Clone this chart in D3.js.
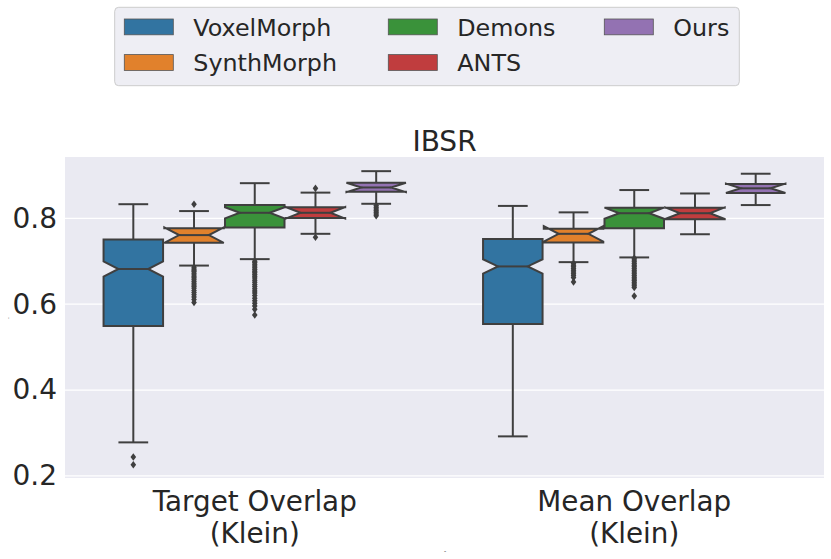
<!DOCTYPE html>
<html>
<head>
<meta charset="utf-8">
<script src="https://cdn.jsdelivr.net/npm/d3@7"></script>
<style>
    body { margin: 0; background: #ffffff; }
    text { font-family: "DejaVu Sans", sans-serif; fill: #262626; }
</style>
</head>
<body>
<div id="chart"></div>
<script>
// categories (x axis) and hue groups
var categories = ["Target Overlap\n(Klein)", "Mean Overlap\n(Klein)"];
var methods = ["VoxelMorph", "SynthMorph", "Demons", "ANTS", "Ours"];
var methodColors = ["#3274a1", "#e1812c", "#3a923a", "#c03d3e", "#9372b2"];
var yTicks = [0.2, 0.4, 0.6, 0.8];

// box statistics, one row per method, [Target, Mean]
var whiskerLow = [[0.278, 0.292], [0.690, 0.698], [0.705, 0.709], [0.764, 0.763], [0.834, 0.831]];
var q1 = [[0.549, 0.554], [0.743, 0.744], [0.779, 0.777], [0.801, 0.798], [0.862, 0.859]];
var median = [[0.682, 0.688], [0.761, 0.764], [0.813, 0.812], [0.813, 0.812], [0.872, 0.870]];
var q3 = [[0.751, 0.752], [0.777, 0.776], [0.831, 0.825], [0.826, 0.825], [0.883, 0.880]];
var whiskerHigh = [[0.833, 0.829], [0.817, 0.814], [0.882, 0.866], [0.860, 0.858], [0.910, 0.904]];
var notchHalf = [[0.0175, 0.0167], [0.018, 0.018], [0.013, 0.013], [0.0135, 0.0135], [0.011, 0.011]];

// outliers
var outVoxelMorph = [[0.244, 0.226], []];
var outSynthMorph = [
    [0.833, 0.686, 0.682, 0.679, 0.676, 0.672, 0.668, 0.664, 0.661, 0.657, 0.653, 0.649,
        0.645, 0.641, 0.637, 0.632, 0.627, 0.622, 0.617, 0.611, 0.604],
    [0.695, 0.691, 0.687, 0.683, 0.679, 0.675, 0.671, 0.667, 0.662, 0.652]
];
var outDemons = [
    [0.700, 0.697, 0.693, 0.689, 0.685, 0.681, 0.677, 0.673, 0.669, 0.665, 0.661, 0.656,
        0.651, 0.646, 0.641, 0.636, 0.631, 0.626, 0.620, 0.614, 0.608, 0.602, 0.596, 0.588, 0.575],
    [0.707, 0.703, 0.699, 0.695, 0.691, 0.687, 0.683, 0.679, 0.675, 0.671, 0.667, 0.663,
        0.659, 0.655, 0.651, 0.647, 0.643, 0.639, 0.619]
];
var outANTS = [[0.870, 0.756], []];
var outOurs = [[0.830, 0.826, 0.822, 0.818, 0.814, 0.810, 0.806], []];
var outliers = [outVoxelMorph, outSynthMorph, outDemons, outANTS, outOurs];

function drawChart() {
    var W = 831, H = 559;
    var plot = { left: 65, right: 824, top: 157, bottom: 478 };
    var lineColor = "#3f3f3f";

    var svg = d3.select("#chart")
        .append("svg")
        .attr("width", W)
        .attr("height", H);

    // background of axes
    svg.append("rect")
        .attr("x", plot.left)
        .attr("y", plot.top)
        .attr("width", plot.right - plot.left)
        .attr("height", plot.bottom - plot.top)
        .attr("fill", "#eaeaf2");

    var y = d3.scaleLinear()
        .domain([0.195, 0.943])
        .range([plot.bottom, plot.top]);

    var x = d3.scaleBand()
        .domain(categories)
        .range([plot.left, plot.right]);

    var bw = x.bandwidth();
    var hue = d3.scaleBand()
        .domain(methods)
        .range([0.1 * bw, 0.9 * bw]);

    // grid lines
    svg.selectAll("gridY")
        .data(yTicks)
        .enter()
        .append("line")
        .attr("x1", plot.left)
        .attr("x2", plot.right)
        .attr("y1", function (d) { return y(d); })
        .attr("y2", function (d) { return y(d); })
        .attr("stroke", "#ffffff")
        .attr("stroke-width", 1.3);

    // y axis
    var yAxis = svg.append("g")
        .attr("transform", "translate(" + plot.left + ",0)")
        .call(d3.axisLeft(y).tickValues(yTicks).tickSize(0).tickPadding(8).tickFormat(d3.format(".1f")));
    yAxis.select(".domain").remove();
    yAxis.selectAll("text")
        .style("font-size", "28px")
        .style("font-family", "DejaVu Sans")
        .attr("fill", "#262626");

    // x tick labels (two lines)
    var xl = svg.selectAll("xlab")
        .data(categories)
        .enter()
        .append("text")
        .attr("text-anchor", "middle")
        .style("font-size", "27.8px");
    xl.selectAll("tspan")
        .data(function (d) {
            return d.split("\n").map(function (s, i) { return { s: s, i: i, c: d }; });
        })
        .enter()
        .append("tspan")
        .attr("x", function (d) { return x(d.c) + bw / 2; })
        .attr("y", function (d) { return 511 + d.i * 32; })
        .text(function (d) { return d.s; });

    // title
    svg.append("text")
        .attr("x", (plot.left + plot.right) / 2)
        .attr("y", 151)
        .attr("text-anchor", "middle")
        .style("font-size", "28px")
        .text("IBSR");

    // tiny axis label remnants
    svg.append("text")
        .attr("transform", "translate(9,318) rotate(-90)")
        .attr("text-anchor", "middle")
        .style("font-size", "6px")
        .text(".");
    svg.append("text")
        .attr("x", 445)
        .attr("y", 553)
        .attr("text-anchor", "middle")
        .style("font-size", "6px")
        .text("-");

    // build box records
    var boxes = [];
    methods.forEach(function (m, mi) {
        categories.forEach(function (c, ci) {
            boxes.push({
                m: m, mi: mi, c: c,
                lo: whiskerLow[mi][ci], q1: q1[mi][ci], med: median[mi][ci],
                q3: q3[mi][ci], hi: whiskerHigh[mi][ci], nh: notchHalf[mi][ci],
                out: outliers[mi][ci]
            });
        });
    });

    var boxW = hue.bandwidth() * 0.98;
    var sw = 2;
    function cx(d) { return x(d.c) + hue(d.m) + hue.bandwidth() / 2; }

    var g = svg.selectAll("boxes")
        .data(boxes)
        .enter()
        .append("g");

    // whiskers
    g.append("line")
        .attr("x1", cx).attr("x2", cx)
        .attr("y1", function (d) { return y(d.hi); })
        .attr("y2", function (d) { return y(d.q3); })
        .attr("stroke", lineColor).attr("stroke-width", sw);
    g.append("line")
        .attr("x1", cx).attr("x2", cx)
        .attr("y1", function (d) { return y(d.q1); })
        .attr("y2", function (d) { return y(d.lo); })
        .attr("stroke", lineColor).attr("stroke-width", sw);

    // caps
    ["hi", "lo"].forEach(function (k) {
        g.append("line")
            .attr("x1", function (d) { return cx(d) - boxW / 4; })
            .attr("x2", function (d) { return cx(d) + boxW / 4; })
            .attr("y1", function (d) { return y(d[k]); })
            .attr("y2", function (d) { return y(d[k]); })
            .attr("stroke", lineColor).attr("stroke-width", sw);
    });

    // notched boxes
    g.append("path")
        .attr("d", function (d) {
            var L = cx(d) - boxW / 2, R = cx(d) + boxW / 2, w4 = boxW / 4;
            var pts = [
                [L, y(d.q1)], [R, y(d.q1)], [R, y(d.med - d.nh)], [R - w4, y(d.med)],
                [R, y(d.med + d.nh)], [R, y(d.q3)], [L, y(d.q3)], [L, y(d.med + d.nh)],
                [L + w4, y(d.med)], [L, y(d.med - d.nh)]
            ];
            return "M" + pts.map(function (p) { return p[0] + "," + p[1]; }).join("L") + "Z";
        })
        .attr("fill", function (d) { return methodColors[d.mi]; })
        .attr("stroke", lineColor)
        .attr("stroke-width", sw)
        .attr("stroke-linejoin", "miter");

    // median
    g.append("line")
        .attr("x1", function (d) { return cx(d) - boxW / 4; })
        .attr("x2", function (d) { return cx(d) + boxW / 4; })
        .attr("y1", function (d) { return y(d.med); })
        .attr("y2", function (d) { return y(d.med); })
        .attr("stroke", lineColor).attr("stroke-width", sw);

    // fliers (diamonds)
    g.selectAll("flier")
        .data(function (d) {
            return d.out.map(function (v) { return { v: v, x: cx(d) }; });
        })
        .enter()
        .append("path")
        .attr("d", function (d) {
            var px = d.x, py = y(d.v);
            return "M" + px + "," + (py - 3.8) + "L" + (px + 2.8) + "," + py +
                "L" + px + "," + (py + 3.8) + "L" + (px - 2.8) + "," + py + "Z";
        })
        .attr("fill", lineColor);

    // legend
    var leg = svg.append("g");
    leg.append("rect")
        .attr("x", 114.7).attr("y", 7.3)
        .attr("width", 624.6).attr("height", 78.4)
        .attr("rx", 4)
        .attr("fill", "#eeeef4")
        .attr("stroke", "#cccccc")
        .attr("stroke-width", 1);

    var colX = [124.3, 388.3, 604.3];
    var rowY = [19, 54.6];
    var items = leg.selectAll("item")
        .data(methods)
        .enter()
        .append("g")
        .attr("transform", function (d, i) {
            return "translate(" + colX[Math.floor(i / 2)] + "," + rowY[i % 2] + ")";
        });
    items.append("rect")
        .attr("width", 49)
        .attr("height", 15.8)
        .attr("fill", function (d, i) { return methodColors[i]; })
        .attr("stroke", "#555555")
        .attr("stroke-width", 0.8);
    items.append("text")
        .attr("x", 69)
        .attr("y", 16.8)
        .style("font-size", "23.8px")
        .text(function (d) { return d; });
}

drawChart();
</script>
</body>
</html>
